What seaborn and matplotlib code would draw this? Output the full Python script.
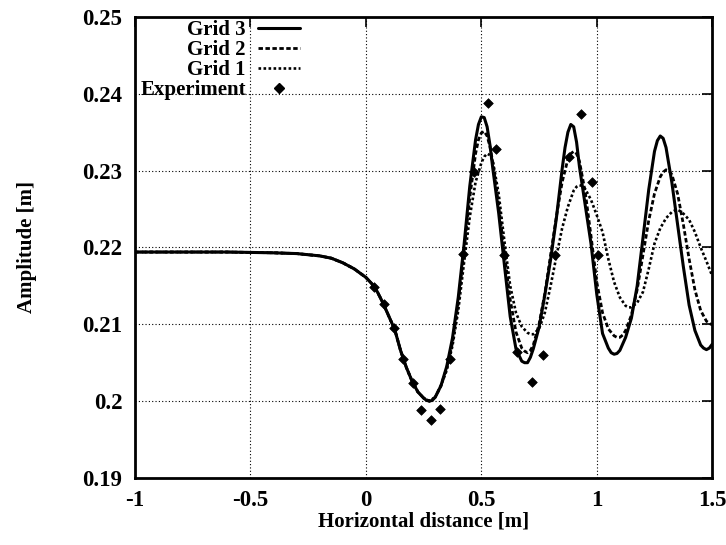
import matplotlib

matplotlib.use("Agg")
import matplotlib.pyplot as plt
import pandas as pd
import seaborn as sns

# horizontal positions [m]
x_dist = [-1.0, -0.6, -0.4, -0.3, -0.2, -0.15, -0.1, -0.05,
          0.0, 0.025, 0.05, 0.075, 0.1, 0.125, 0.15, 0.175, 0.2, 0.225,
          0.25, 0.275, 0.3, 0.325,
          0.35, 0.375, 0.4, 0.425, 0.45, 0.475, 0.5, 0.525, 0.55, 0.575,
          0.6, 0.625, 0.65, 0.675, 0.7, 0.725, 0.75, 0.775, 0.8, 0.825,
          0.85, 0.875, 0.9, 0.925, 0.95, 0.975, 1.0, 1.025, 1.05, 1.075,
          1.1, 1.125, 1.15, 1.175, 1.2, 1.225, 1.25, 1.275, 1.3, 1.325,
          1.35, 1.375, 1.4, 1.425, 1.45, 1.475, 1.5]

# upstream part, identical for all grids
shared_front = [0.2194, 0.2194, 0.2193, 0.2192, 0.2189, 0.2186, 0.2180, 0.2172,
                0.2161, 0.2153, 0.2142, 0.2127, 0.2110, 0.2093, 0.2066, 0.2044,
                0.2026, 0.2012, 0.2004, 0.2000, 0.2005, 0.2020]

grid3_tail = [0.2045, 0.2082, 0.2135, 0.2203, 0.2280, 0.2340, 0.2370, 0.2357, 0.2302, 0.2245,
              0.2177, 0.2110, 0.2068, 0.2052, 0.2050, 0.2068, 0.2096, 0.2138, 0.2184, 0.2238,
              0.2302, 0.2350, 0.2357, 0.2305, 0.2255, 0.2205, 0.2139, 0.2088, 0.2069, 0.2061,
              0.2066, 0.2083, 0.2108, 0.2150, 0.2212, 0.2275, 0.2325, 0.2345, 0.2330, 0.2285,
              0.2230, 0.2175, 0.2125, 0.2092, 0.2073, 0.2067, 0.2074]

grid2_tail = [0.2043, 0.2076, 0.2128, 0.2195, 0.2265, 0.2322, 0.2349, 0.2345, 0.2310, 0.2255,
              0.2192, 0.2132, 0.2090, 0.2069, 0.2063, 0.2073, 0.2100, 0.2140, 0.2190, 0.2240,
              0.2285, 0.2315, 0.2325, 0.2312, 0.2272, 0.2215, 0.2155, 0.2115, 0.2094, 0.2085,
              0.2083, 0.2092, 0.2112, 0.2145, 0.2190, 0.2235, 0.2270, 0.2292, 0.2301, 0.2295,
              0.2270, 0.2230, 0.2185, 0.2145, 0.2118, 0.2104, 0.2099]

grid1_tail = [0.2040, 0.2072, 0.2118, 0.2180, 0.2240, 0.2285, 0.2310, 0.2322, 0.2312, 0.2270,
              0.2208, 0.2150, 0.2115, 0.2097, 0.2089, 0.2087, 0.2094, 0.2115, 0.2150, 0.2188,
              0.2225, 0.2253, 0.2274, 0.2281, 0.2276, 0.2262, 0.2242, 0.2220, 0.2185, 0.2155,
              0.2135, 0.2124, 0.2122, 0.2128, 0.2142, 0.2172, 0.2205, 0.2225, 0.2238, 0.2246,
              0.2249, 0.2244, 0.2236, 0.2220, 0.2200, 0.2182, 0.2163]

# extra readings around crests and troughs
grid3_extra_x = [0.2625, 0.2875, 0.4875, 0.5125, 0.5375, 0.6875, 0.7125, 0.8625, 0.8875,
                 0.9125, 1.0625, 1.0875, 1.2625, 1.2875, 1.4625, 1.4875]
grid3_extra_y = [0.2001, 0.2001, 0.2360, 0.2369, 0.2333, 0.2050, 0.2057, 0.2330, 0.2360,
                 0.2337, 0.2063, 0.2062, 0.2339, 0.2342, 0.2069, 0.2069]
grid2_extra_x = [0.4875, 0.5125, 0.5375, 0.6875, 0.7125, 0.8875, 0.9125, 1.0875, 1.1125,
                 1.2875, 1.3125]
grid2_extra_y = [0.2340, 0.2351, 0.2331, 0.2065, 0.2066, 0.2322, 0.2322, 0.2083, 0.2086,
                 0.2298, 0.2300]
grid1_extra_x = [0.5125, 0.5375, 0.7125, 0.9125, 0.9375, 1.1375, 1.3375, 1.3625]
grid1_extra_y = [0.2318, 0.2320, 0.2087, 0.2279, 0.2280, 0.2122, 0.2248, 0.2247]

grid3 = shared_front + grid3_tail
grid2 = shared_front + grid2_tail
grid1 = shared_front + grid1_tail

exp_x = [0.036, 0.077, 0.121, 0.159, 0.203, 0.239, 0.283, 0.323, 0.363, 0.421,
         0.467, 0.527, 0.563, 0.60, 0.655, 0.72, 0.768, 0.82, 0.878, 0.93,
         0.978, 1.005]
exp_y = [0.2149, 0.2126, 0.2095, 0.2055, 0.2024, 0.1989, 0.1975, 0.1990, 0.2055, 0.2191,
         0.2298, 0.2388, 0.2328, 0.2190, 0.2064, 0.2025, 0.2060, 0.2190, 0.2318, 0.2374,
         0.2285, 0.2190]

x_ticks = [-1, -0.5, 0, 0.5, 1, 1.5]
x_ticklabels = ["-1", "-0.5", "0", "0.5", "1", "1.5"]
y_ticks = [0.19, 0.20, 0.21, 0.22, 0.23, 0.24, 0.25]
y_ticklabels = ["0.19", "0.2", "0.21", "0.22", "0.23", "0.24", "0.25"]

sns.set_theme(style="white")
plt.rcParams["font.family"] = ["Liberation Serif", "DejaVu Serif"]
plt.rcParams["font.weight"] = "bold"
plt.rcParams["axes.labelweight"] = "bold"
plt.rcParams["text.color"] = "black"
plt.rcParams["axes.labelcolor"] = "black"

fig = plt.figure(figsize=(7.26, 5.45), dpi=100)
ax = fig.add_axes([0.186, 0.123, 0.795, 0.846])

styles = [
    ("Grid 1", grid1, grid1_extra_x, grid1_extra_y, (0, (1, 0.9)), 1.9),
    ("Grid 2", grid2, grid2_extra_x, grid2_extra_y, (0, (1.6, 0.9)), 2.0),
    ("Grid 3", grid3, grid3_extra_x, grid3_extra_y, "-", 2.2),
]
handles = {}
for name, vals, ex_x, ex_y, ls, lw in styles:
    df = pd.DataFrame({"x": x_dist + ex_x, "y": vals + ex_y}).sort_values("x")
    sns.lineplot(data=df, x="x", y="y", ax=ax, color="black", linestyle=ls,
                 linewidth=lw, estimator=None, sort=False, legend=False)
    handles[name] = ax.lines[-1]

exp_df = pd.DataFrame({"x": exp_x, "y": exp_y})
sns.scatterplot(data=exp_df, x="x", y="y", ax=ax, marker="D", s=24,
                color="black", edgecolor="black", linewidth=0.5, zorder=5,
                legend=False)
exp_handle = plt.Line2D([], [], linestyle="none", marker="D", markersize=5,
                        color="black")

ax.set_xlim(-1, 1.5)
ax.set_ylim(0.19, 0.25)
ax.set_xticks(x_ticks)
ax.set_xticklabels(x_ticklabels)
ax.set_yticks(y_ticks)
ax.set_yticklabels(y_ticklabels)
ax.tick_params(direction="in", length=7, width=1.2, top=True, right=True,
               labelsize=16.5, pad=9, colors="black")
ax.grid(True, color="black", linestyle=(0, (1, 2)), linewidth=0.8)
for sp in ax.spines.values():
    sp.set_color("black")
    sp.set_linewidth(2)

ax.set_xlabel("Horizontal distance [m]", fontsize=15, labelpad=0)
ax.set_ylabel("Amplitude [m]", fontsize=15, labelpad=33)

ax.legend([handles["Grid 3"], handles["Grid 2"], handles["Grid 1"], exp_handle],
          ["Grid 3", "Grid 2", "Grid 1", "Experiment"],
          loc="upper right", bbox_to_anchor=(300 / 726, 1 - 20 / 545),
          bbox_transform=fig.transFigure, frameon=False, markerfirst=False,
          fontsize=15, handlelength=2.0, handletextpad=0.6, labelspacing=0.0,
          borderpad=0, borderaxespad=0)

fig.savefig("out.png", dpi=100)
plt.close(fig)
